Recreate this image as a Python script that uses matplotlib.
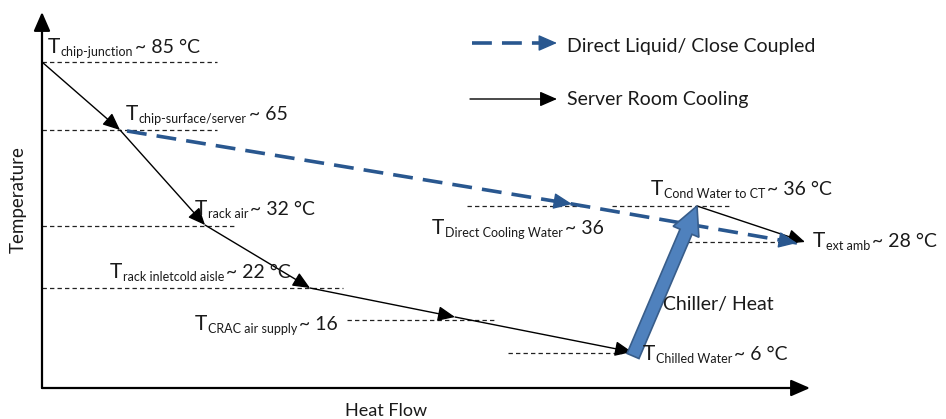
import matplotlib.pyplot as plt
from matplotlib.patches import FancyArrow

plt.rcParams['font.family'] = ['Lato', 'DejaVu Sans']

# schematic coordinates (heat flow -> right, temperature -> up; pixel-like units)
server_x = [42, 120, 205, 310, 455, 632]
server_y = [62, 130, 225, 288, 317, 352]
chiller_x = [633, 697]
chiller_y = [356, 206]
cond_x = [697, 805]
cond_y = [206, 242]
direct_x = [127, 572, 797]
direct_y = [131, 204, 243]

# dashed level guides
guide_y = [62, 130, 226, 288, 320, 353, 206, 206, 242]
guide_x0 = [42, 42, 42, 42, 347, 508, 467, 612, 680]
guide_x1 = [217, 217, 235, 343, 497, 622, 585, 732, 798]

# level labels: subscript, value, left x, baseline
label_sub = ['chip-junction', 'chip-surface/server', 'rack air',
             'rack inletcold aisle', 'CRAC air supply', 'Direct Cooling Water',
             'Cond Water to CT', 'ext amb', 'Chilled Water']
label_val = ['~ 85 °C', '~ 65', '~ 32 °C', '~ 22 °C', '~ 16', '~ 36',
             '~ 36 °C', '~ 28 °C', '~ 6 °C']
label_x = [48, 126, 195, 110, 195, 432, 651, 813, 643]
label_y = [53, 120, 215, 278, 330, 234, 195, 247, 360]

blue = '#29578F'
txt = '#1a1a1a'

fig = plt.figure(figsize=(9.46, 4.19), dpi=100)
ax = fig.add_axes([0, 0, 1, 1])
ax.set_xlim(0, 946)
ax.set_ylim(419, 0)
ax.axis('off')
renderer = fig.canvas.get_renderer()

def arrow(p0, p1, color='k', lw=1.0, scale=19, ls='-'):
    ax.annotate('', xy=p1, xytext=p0,
                arrowprops=dict(arrowstyle='-|>,head_length=0.55,head_width=0.24',
                                color=color, lw=lw, ls=ls, mutation_scale=scale,
                                shrinkA=0, shrinkB=0))

# axes
arrow((42, 388), (42, 12), lw=1.6, scale=21)
arrow((42, 388), (810, 388), lw=1.6, scale=21)

# guides
for y, x0, x1 in zip(guide_y, guide_x0, guide_x1):
    ax.plot([x0, x1], [y, y], color='#222222', lw=0.9, dashes=(3.5, 2.5))

# server room cooling path
for i in range(len(server_x) - 1):
    arrow((server_x[i], server_y[i]), (server_x[i + 1], server_y[i + 1]))
arrow((cond_x[0], cond_y[0]), (cond_x[1], cond_y[1]))

# direct liquid path
ax.plot(direct_x, direct_y, color=blue, lw=2.6, dashes=(5.5, 2.8))
for i in range(1, len(direct_x)):
    dx = direct_x[i] - direct_x[i - 1]
    dy = direct_y[i] - direct_y[i - 1]
    arrow((direct_x[i] - dx * 0.02, direct_y[i] - dy * 0.02),
          (direct_x[i], direct_y[i]), color=blue, scale=21)

# chiller arrow
ax.add_patch(FancyArrow(chiller_x[0], chiller_y[0],
                        chiller_x[1] - chiller_x[0], chiller_y[1] - chiller_y[0],
                        width=13, head_width=28, head_length=28,
                        length_includes_head=True,
                        facecolor='#4F81BD', edgecolor='#385D8A', lw=1.2, zorder=3))

# legend
ax.plot([472, 545], [43, 43], color=blue, lw=2.6, dashes=(5.5, 2.8))
arrow((540, 43), (557, 43), color=blue, scale=21)
arrow((470, 99), (557, 99))
ax.text(567, 52, 'Direct Liquid/ Close Coupled', fontsize=14, color=txt, va='baseline')
ax.text(567, 105, 'Server Room Cooling', fontsize=14, color=txt, va='baseline')

# level labels: big T, small subscript, value
for s, v, x, y in zip(label_sub, label_val, label_x, label_y):
    t = ax.text(x, y, 'T', fontsize=15, color=txt, va='baseline')
    x1 = t.get_window_extent(renderer).x1 + 0.5
    t = ax.text(x1, y + 3, s, fontsize=9, color=txt, va='baseline')
    x2 = t.get_window_extent(renderer).x1 + 2
    ax.text(x2, y, v, fontsize=14, color=txt, va='baseline')

ax.text(663, 310, 'Chiller/ Heat', fontsize=14, color=txt, va='baseline')
ax.text(386, 416, 'Heat Flow', fontsize=13, color=txt, va='baseline', ha='center')
ax.text(18, 200, 'Temperature', fontsize=13.5, color=txt, rotation=90,
        va='center', ha='center')

fig.savefig('out.png', dpi=100)
